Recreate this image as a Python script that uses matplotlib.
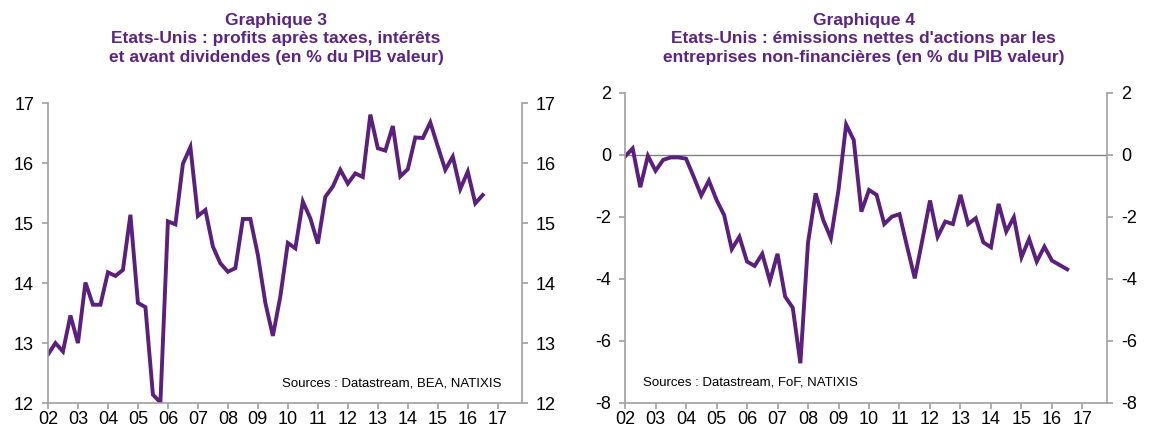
import matplotlib.pyplot as plt
import numpy as np

plt.rcParams['font.family'] = ['Liberation Sans', 'DejaVu Sans']

# quarterly data, 2002Q1 .. 2016Q3
profits = [12.81, 13.00, 12.86, 13.46, 13.00, 14.01, 13.64, 13.64,
           14.18, 14.12, 14.22, 15.14, 13.67, 13.60, 12.14, 12.01,
           15.03, 14.98, 15.99, 16.27, 15.12, 15.22, 14.61, 14.33,
           14.19, 14.25, 15.07, 15.07, 14.47, 13.67, 13.12, 13.78,
           14.67, 14.58, 15.36, 15.08, 14.66, 15.44, 15.61, 15.89,
           15.66, 15.83, 15.77, 16.81, 16.25, 16.21, 16.62, 15.78,
           15.90, 16.43, 16.42, 16.68, 16.28, 15.89, 16.11, 15.57,
           15.86, 15.33, 15.47]
emissions = [-0.06, 0.20, -1.05, -0.04, -0.52, -0.17, -0.09, -0.09,
             -0.13, -0.71, -1.32, -0.84, -1.46, -1.95, -3.05, -2.65,
             -3.45, -3.59, -3.20, -4.08, -3.20, -4.58, -4.94, -6.73,
             -2.84, -1.25, -2.11, -2.70, -1.14, 0.97, 0.47, -1.84,
             -1.14, -1.30, -2.24, -2.00, -1.92, -2.97, -3.99, -2.75,
             -1.48, -2.65, -2.16, -2.24, -1.30, -2.24, -2.05, -2.83,
             -2.99, -1.59, -2.48, -2.02, -3.31, -2.72, -3.45, -2.97,
             -3.42, -3.56, -3.70]
years = list(range(2002, 2018))
year_labels = ['%02d' % (y % 100) for y in years]

title3 = "Graphique 3\nEtats-Unis : profits après taxes, intérêts\net avant dividendes (en % du PIB valeur)"
title4 = "Graphique 4\nEtats-Unis : émissions nettes d'actions par les\nentreprises non-financières (en % du PIB valeur)"
src3 = "Sources : Datastream, BEA, NATIXIS"
src4 = "Sources : Datastream, FoF, NATIXIS"

purple = '#5b1f7d'
title_col = '#5c2483'
gray = '#a0a0a0'

t = 2002 + np.arange(len(profits)) / 4.0

fig = plt.figure(figsize=(11.5, 4.32), dpi=100)


def style(ax, ylim, yticks):
    ax.set_xlim(2002, 2017.8)
    ax.set_ylim(*ylim)
    ax.set_xticks(years)
    ax.set_xticklabels(year_labels)
    ax.set_yticks(yticks)
    ax.set_yticklabels([str(v) for v in yticks])
    ax.spines['top'].set_visible(False)
    for s in ['left', 'right', 'bottom']:
        ax.spines[s].set_color(gray)
        ax.spines[s].set_linewidth(1.2)
    ax.tick_params(axis='both', direction='out', length=4, color=gray,
                   labelsize=13, width=1.2)
    ax.tick_params(axis='x', pad=2)
    ax.tick_params(axis='y', right=True, labelright=True, pad=6)


ax1 = fig.add_axes([0.0417, 0.067, 0.412, 0.694])
ax1.plot(t, profits, color=purple, lw=2.8, solid_joinstyle='miter')
style(ax1, (12, 17), [12, 13, 14, 15, 16, 17])
ax1.text(0.958, 0.045, src3, transform=ax1.transAxes, ha='right',
         va='bottom', fontsize=9.5)
fig.text(0.24, 0.971, title3, ha='center', va='top', fontsize=12.5,
         fontweight='bold', color=title_col, linespacing=1.32)

ax2 = fig.add_axes([0.5435, 0.068, 0.419, 0.7176])
ax2.axhline(0, color='#808080', lw=1.0)
ax2.plot(t, emissions, color=purple, lw=2.8, solid_joinstyle='miter')
style(ax2, (-8, 2), [-8, -6, -4, -2, 0, 2])
ax2.text(0.037, 0.045, src4, transform=ax2.transAxes, ha='left',
         va='bottom', fontsize=9.5)
fig.text(0.751, 0.971, title4, ha='center', va='top', fontsize=12.5,
         fontweight='bold', color=title_col, linespacing=1.32)

fig.savefig('out.png', dpi=100)
